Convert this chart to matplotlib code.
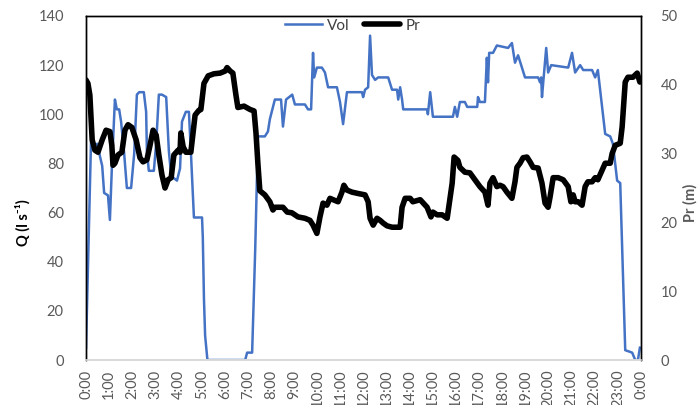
import numpy as np
import matplotlib
matplotlib.use("Agg")
import matplotlib.pyplot as plt

plt.rcParams['font.family'] = ['Lato', 'DejaVu Sans']

# Flow (Vol) readings: minutes after midnight, Q in l/s
vol_min = [0, 13, 21, 29, 36, 42, 47, 57, 62, 67, 75, 80, 86, 91, 99, 106, 117, 125,
           132, 138, 150, 156, 158, 163, 176, 182, 189, 197, 208, 215, 221, 228, 236,
           244, 249, 259, 267, 272, 280, 301, 303, 306, 309, 315, 413, 418, 431, 439,
           446, 464, 472, 477, 490, 506, 511, 519, 535, 542, 568, 576, 584, 589, 592,
           599, 612, 620, 628, 651, 659, 667, 677, 716, 719, 724, 732, 737, 742, 750,
           758, 784, 794, 807, 810, 815, 820, 823, 885, 887, 893, 900, 952, 957, 963,
           970, 983, 989, 1015, 1017, 1022, 1035, 1040, 1043, 1046, 1056, 1066, 1095,
           1105, 1113, 1121, 1139, 1173, 1178, 1181, 1183, 1194, 1199, 1207, 1251,
           1261, 1269, 1282, 1290, 1313, 1321, 1328, 1339, 1347, 1360, 1367, 1378,
           1386, 1399, 1417, 1425, 1432, 1437]
vol = [5, 89, 87, 88, 83, 79, 68, 67, 57, 78, 106, 102, 102, 97, 84, 70, 70, 84,
       108, 109, 109, 101, 85, 77, 77, 88, 108, 108, 107, 85, 75, 74, 73,
       78, 97, 101, 101, 85, 58, 58, 50, 25, 10, 0, 0, 3, 3, 45,
       91, 91, 93, 98, 106, 106, 95, 106, 108, 104, 104, 102, 102, 125, 115,
       119, 119, 117, 111, 111, 105, 96, 109, 109, 107, 110, 111, 132, 116, 114,
       115, 115, 110, 110, 106, 111, 106, 102, 102, 100, 109, 99, 99, 103, 99,
       105, 105, 103, 103, 107, 105, 105, 123, 113, 125, 125, 128, 127,
       129, 121, 124, 115, 115, 113, 115, 107, 127, 117, 120, 119,
       125, 117, 120, 118, 118, 115, 118, 103, 92, 91, 88, 73,
       72, 4, 3, 0, 0, 5]

# Pressure (Pr) readings: minutes after midnight, m
pr_min = [0, 5, 10, 16, 23, 31, 42, 52, 62, 67, 70, 75, 83, 93, 101, 109, 119, 130,
          140, 148, 158, 166, 174, 182, 189, 197, 205, 213, 221, 228, 239, 244, 246,
          252, 259, 272, 283, 293, 298, 306, 317, 332, 348, 361, 366, 374, 381, 389,
          394, 410, 426, 436, 441, 446, 451, 464, 477, 485, 490, 511, 522, 534, 550,
          568, 581, 589, 599, 607, 615, 625, 633, 641, 654, 664, 669, 677, 690, 706,
          724, 732, 737, 745, 755, 763, 771, 781, 794, 815, 820, 828, 841, 848, 867,
          872, 885, 890, 895, 900, 911, 924, 937, 950, 955, 965, 970, 983, 996, 1009,
          1022, 1035, 1043, 1048, 1056, 1066, 1074, 1082, 1092, 1105, 1113, 1118,
          1126, 1134, 1144, 1152, 1160, 1173, 1183, 1191, 1199, 1204, 1212, 1225,
          1238, 1251, 1258, 1264, 1269, 1277, 1287, 1295, 1302, 1313, 1321, 1328,
          1339, 1347, 1360, 1365, 1373, 1386, 1391, 1399, 1406, 1419, 1430, 1437]
pr = [40.7, 40.2, 38.5, 32, 30.5, 30.2, 32, 33.4, 33.2, 31.2, 28.3, 28.6, 29.8, 30.2,
      33.4, 34.2, 33.8, 32, 29.4, 28.8, 29.1, 31.2, 33.4, 32.7, 29.8, 26.9, 25, 26.2,
      26.5, 29.8, 30.5, 30.2, 33, 31, 30.2, 30.2, 35.6, 36.3, 36.4, 40.2, 41.3, 41.6,
      41.7, 42, 42.5, 42, 41.7, 38.5, 36.7, 36.9, 36.4, 36.2, 33, 28.5, 24.6, 24, 23,
      21.8, 22.2, 22.2, 21.5, 21.4, 20.8, 20.6, 20.3, 19.6, 18.4, 20.8, 22.8, 22.5,
      23.5, 23.3, 23, 24.4, 25.4, 24.7, 24.4, 24.2, 24, 23, 20.6, 19.6, 20.6, 20.3,
      19.9, 19.5, 19.3, 19.3, 22.2, 23.5, 23.5, 23, 23.3, 23, 22.2, 21.5, 20.8, 21.5,
      21.1, 21.1, 20.6, 25.7, 29.5, 29, 28, 27.3, 27.2, 26.2, 25.2, 24.4, 22.5, 25.7,
      26.5, 25.2, 25.4, 25.2, 24.4, 23.5, 25.9, 28, 28.6, 29.4, 29.5, 28.8, 28, 27.9,
      25.7, 22.8, 22.2, 23.7, 26.5, 26.5, 26.2, 25.2, 23, 24, 23, 23, 22.5, 25.2,
      25.9, 25.9, 26.5, 26.2, 27.6, 28.6, 28.6, 30, 31.2, 31.5, 33.9, 40.4, 41.1,
      41.1, 41.7, 40.4]

hour_ticks = list(range(0, 1441, 60))
hour_labels = [f"{(m // 60) % 24}:00" for m in hour_ticks]

grey = '#595959'

fig = plt.figure(figsize=(6.97, 4.05), dpi=100)
ax = fig.add_axes([0.1234, 0.1111, 0.7963, 0.8494])
ax2 = ax.twinx()

l1, = ax.plot(vol_min, vol, color='#4472C4', lw=1.8, label='Vol')
l2, = ax2.plot(pr_min, pr, color='black', lw=4.0, label='Pr',
               solid_joinstyle='round', solid_capstyle='round')

ax.set_xlim(0, 1440)
ax.set_ylim(0, 140)
ax2.set_ylim(0, 50)
ax.set_yticks(range(0, 141, 20))
ax2.set_yticks(range(0, 51, 10))
ax.set_xticks(hour_ticks)
ax.set_xticklabels(hour_labels, rotation=90)

for a in (ax, ax2):
    a.tick_params(length=0, labelsize=10.5, labelcolor=grey)
ax.tick_params(axis='y', pad=16)
ax2.tick_params(axis='y', pad=14)
ax.tick_params(axis='x', pad=7)

for a in (ax, ax2):
    for side in ('top', 'left', 'right'):
        a.spines[side].set_color('black')
        a.spines[side].set_linewidth(1.0)
    a.spines['bottom'].set_color('#d9d9d9')
    a.spines['bottom'].set_linewidth(1.2)

fig.text(0.033, 0.45, 'Q (l s⁻¹)', rotation=90, ha='center', va='center',
         fontsize=10.5, fontweight='bold', color='black')
fig.text(0.99, 0.50, 'Pr (m)', rotation=90, ha='center', va='center',
         fontsize=10.5, fontweight='bold', color=grey)

leg = ax2.legend([l1, l2], ['Vol', 'Pr'], loc='center', ncol=2,
                 bbox_to_anchor=(0.481, 0.972), frameon=False, fontsize=11,
                 handlelength=2.4, handletextpad=0.35, columnspacing=0.9,
                 borderpad=0, borderaxespad=0)
for t in leg.get_texts():
    t.set_color('#404040')

fig.savefig('out.png', dpi=100)
